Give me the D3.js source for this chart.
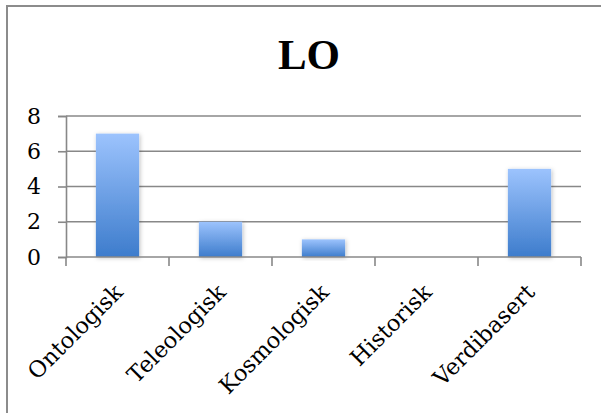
<!DOCTYPE html>
<html>
<head>
<meta charset="utf-8">
<script src="https://cdn.jsdelivr.net/npm/d3@7"></script>
<style>
  body { margin: 0; background: #fff; }
  text { font-family: "DejaVu Serif", serif; fill: #000; }
</style>
</head>
<body>
<div id="container"></div>
<script>
var categories = ["Ontologisk", "Teleologisk", "Kosmologisk", "Historisk", "Verdibasert"];
var values = [7, 2, 1, 0, 5];
var yTicks = [0, 2, 4, 6, 8];
var title = "LO";

const width = 601;
const height = 413;
const plotLeft = 66, plotRight = 581, plotTop = 116, plotBottom = 257;

const svg = d3.select("#container").append("svg")
    .attr("width", width)
    .attr("height", height);

// gradient + shadow for the bars
const defs = svg.append("defs");
const grad = defs.append("linearGradient")
    .attr("id", "barGrad")
    .attr("x1", 0).attr("y1", 0).attr("x2", 0).attr("y2", 1);
grad.append("stop").attr("offset", "0%").attr("stop-color", "#9cc3fd");
grad.append("stop").attr("offset", "100%").attr("stop-color", "#3d7ccc");

const shadow = defs.append("filter").attr("id", "shadow")
    .attr("x", "-20%").attr("y", "-20%").attr("width", "140%").attr("height", "140%");
shadow.append("feDropShadow")
    .attr("dx", 1).attr("dy", 1).attr("stdDeviation", 2)
    .attr("flood-color", "#000").attr("flood-opacity", 0.25);

// chart frame
svg.append("rect")
    .attr("x", 7).attr("y", 6)
    .attr("width", 620).attr("height", 420)
    .attr("fill", "none")
    .attr("stroke", "#8c8c8c")
    .attr("stroke-width", 2);

svg.append("text")
    .attr("x", 309).attr("y", 69)
    .attr("text-anchor", "middle")
    .style("font-family", "'Liberation Serif', serif")
    .style("font-weight", "bold")
    .style("font-size", "43px")
    .text(title);

const xScale = d3.scaleBand()
    .domain(categories)
    .range([plotLeft, plotRight])
    .paddingInner(0.58)
    .paddingOuter(0.29);

const xTicks = d3.scaleBand().domain(categories).range([plotLeft, plotRight]);

const yScale = d3.scaleLinear()
    .domain([0, 8])
    .range([plotBottom, plotTop]);

// gridlines
svg.append("g")
  .selectAll("line")
  .data(yTicks.filter(d => d > 0))
  .enter().append("line")
    .attr("x1", plotLeft).attr("x2", plotRight)
    .attr("y1", d => yScale(d)).attr("y2", d => yScale(d))
    .attr("stroke", "#888")
    .attr("stroke-width", 1.6);

// y axis
const yAxis = svg.append("g")
    .attr("transform", "translate(" + plotLeft + ",0)")
    .call(d3.axisLeft(yScale).tickValues(yTicks).tickSize(8).tickPadding(24).tickFormat(d3.format("d")));
yAxis.select(".domain").attr("stroke", "#888").attr("stroke-width", 1.6);
yAxis.selectAll(".tick line").attr("stroke", "#888").attr("stroke-width", 1.6);
yAxis.selectAll("text")
    .style("font-family", "'DejaVu Serif', serif")
    .style("font-size", "22px")
    .attr("text-anchor", "middle")
    .attr("fill", "#000");

// bars
svg.append("g")
  .selectAll("rect")
  .data(values)
  .enter().append("rect")
    .attr("x", (d, i) => xScale(categories[i]))
    .attr("y", d => yScale(d))
    .attr("width", xScale.bandwidth())
    .attr("height", d => plotBottom - yScale(d))
    .attr("fill", "url(#barGrad)")
    .attr("filter", "url(#shadow)");

// x axis
const xAxis = svg.append("g")
    .attr("transform", "translate(0," + plotBottom + ")");
xAxis.append("line")
    .attr("x1", plotLeft).attr("x2", plotRight)
    .attr("y1", 0).attr("y2", 0)
    .attr("stroke", "#888").attr("stroke-width", 1.6);
xAxis.selectAll("line.tk")
  .data(categories.concat(["end"]))
  .enter().append("line")
    .attr("class", "tk")
    .attr("x1", (d, i) => i < categories.length ? xTicks(d) : plotRight)
    .attr("x2", (d, i) => i < categories.length ? xTicks(d) : plotRight)
    .attr("y1", 0).attr("y2", 9)
    .attr("stroke", "#888").attr("stroke-width", 1.6);

xAxis.selectAll("text.cat")
  .data(categories)
  .enter().append("text")
    .attr("class", "cat")
    .attr("transform", d => "translate(" + (xScale(d) + xScale.bandwidth() / 2 - 5) + ",25) rotate(-45)")
    .attr("text-anchor", "end")
    .attr("dy", "0.73em")
    .style("font-size", "22.5px")
    .text(d => d);
</script>
</body>
</html>
